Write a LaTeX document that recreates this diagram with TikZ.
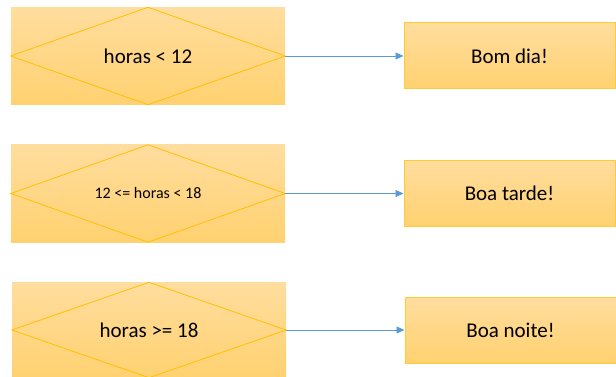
\documentclass[tikz,border=0pt]{standalone}
\usepackage{fontspec}
\setmainfont{Carlito}
\usetikzlibrary{arrows.meta}
\definecolor{gtop}{RGB}{255,221,158}
\definecolor{gbot}{RGB}{255,209,112}
\definecolor{gold}{RGB}{255,192,0}
\definecolor{conn}{RGB}{91,155,213}
\begin{document}
\begin{tikzpicture}[x=1pt,y=-1pt,
  condbox/.style={rectangle, top color=gtop, bottom color=gbot, draw=none,
    minimum width=274pt, minimum height=97pt, inner sep=0pt, font=\fontsize{21}{24}\selectfont},
  outbox/.style={rectangle, top color=gtop, bottom color=gbot, draw=gold!80!white, line width=1pt,
    minimum width=211pt, minimum height=66pt, inner sep=0pt, font=\fontsize{21}{24}\selectfont},
  diam/.style={draw=gold, line width=0.8pt},
  conn/.style={draw=conn, line width=0.8pt, -{Triangle[length=8pt,width=7pt]}}]
\useasboundingbox (0,0) rectangle (616,377);
% row 1
\node[condbox] (c1) at (148,56) {};
\draw[diam] (c1.west) -- (c1.north) -- (c1.east) -- (c1.south) -- cycle;
\node (t1) at (c1.center) {\fontsize{21}{24}\selectfont horas < 12};
\node[outbox] (o1) at (509.5,56) {Bom dia!};
\draw[conn] (c1.east) -- (o1.west);
% row 2
\node[condbox] (c2) at (148,193.5) {};
\draw[diam] (c2.west) -- (c2.north) -- (c2.east) -- (c2.south) -- cycle;
\node (t2) at (c2.center) {\fontsize{16}{19}\selectfont 12 <= horas < 18};
\node[outbox] (o2) at (509.5,193.5) {Boa tarde!};
\draw[conn] (c2.east) -- (o2.west);
% row 3
\node[condbox, minimum height=95pt] (c3) at (149,330) {};
\draw[diam] (c3.west) -- (c3.north) -- (c3.east) -- (c3.south) -- cycle;
\node (t3) at (c3.center) {\fontsize{21}{24}\selectfont horas >= 18};
\node[outbox] (o3) at (510.5,330) {Boa noite!};
\draw[conn] (c3.east) -- (o3.west);
\end{tikzpicture}
\end{document}
